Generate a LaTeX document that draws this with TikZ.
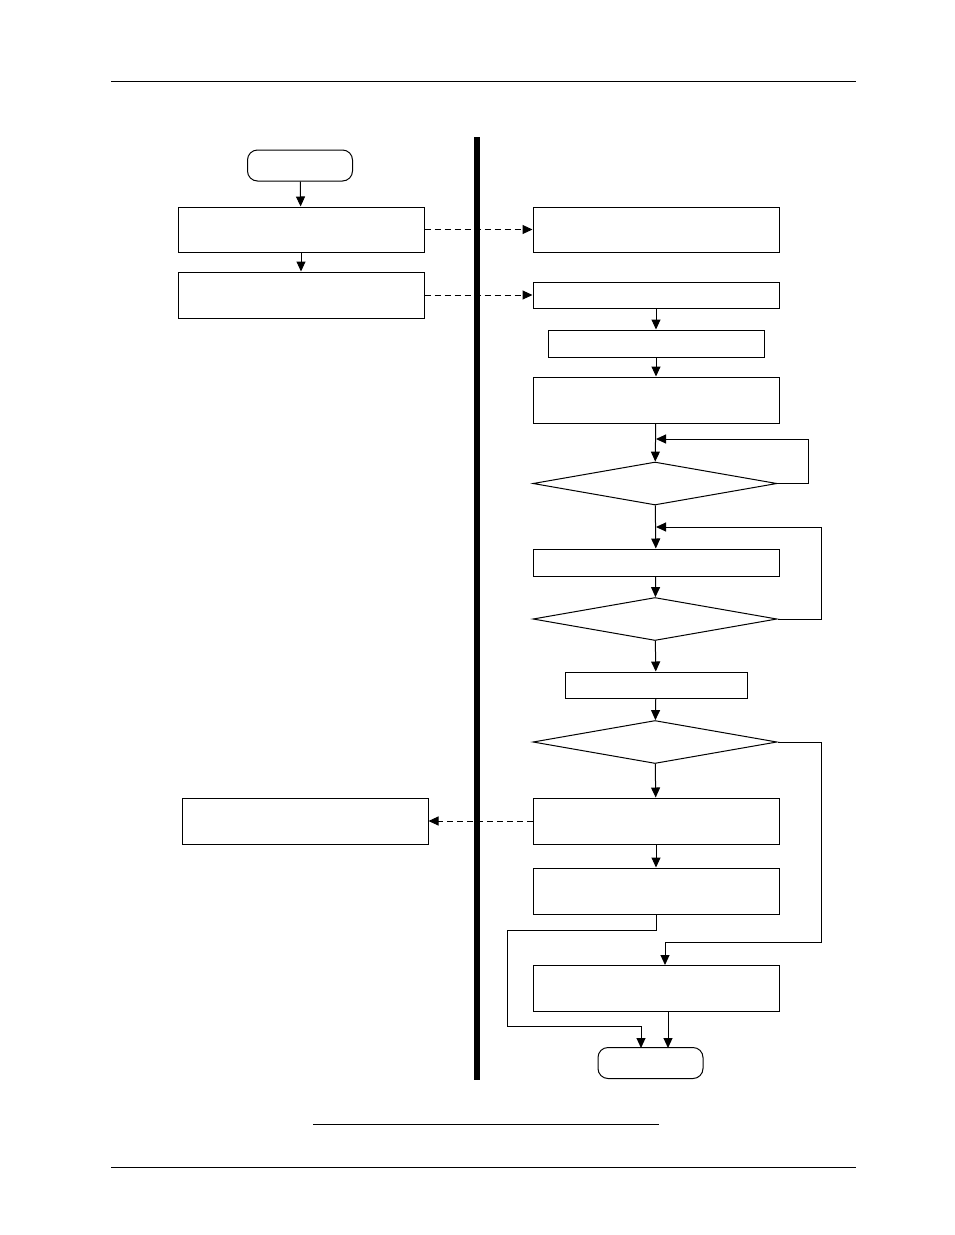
\documentclass[tikz,border=0pt]{standalone}
\usetikzlibrary{shapes.geometric,arrows.meta}
\begin{document}
\begin{tikzpicture}[x=1pt,y=-1pt,
  bx/.style={draw,line width=1pt,inner sep=0pt,rectangle},
  term/.style={draw,line width=1pt,inner sep=0pt,rounded corners=10pt,minimum width=105pt,minimum height=31pt},
  dia/.style={draw,line width=1pt,inner sep=0pt,diamond,minimum width=244pt,minimum height=43pt},
  arr/.style={line width=1pt,-{Triangle[length=10pt,width=9pt]}},
  dsh/.style={arr,dashed,dash pattern=on 6pt off 4pt}]
\useasboundingbox (0,0) rectangle (954,1235);
\draw[line width=0.8pt] (111,81) coordinate (h1) -- (856,81) coordinate (h2);
\draw[line width=0.8pt] (111,1167) coordinate (f1) -- (856,1167) coordinate (f2);
\draw[line width=0.8pt] (313,1124) coordinate (u1) -- (659,1124) coordinate (u2);
\draw[line width=6pt] (477,137) coordinate (v1) -- (477,1080) coordinate (v2);
\node[term] (st) at (300,165.5) {};
\node[bx,minimum width=246pt,minimum height=45pt] (l1) at (301,229.5) {};
\node[bx,minimum width=246pt,minimum height=46pt] (l2) at (301,295) {};
\node[bx,minimum width=246pt,minimum height=45pt] (r1) at (656,229.5) {};
\node[bx,minimum width=246pt,minimum height=26pt] (r2) at (656,295) {};
\node[bx,minimum width=216pt,minimum height=27pt] (r3) at (656,343.5) {};
\node[bx,minimum width=246pt,minimum height=46pt] (r4) at (656,400) {};
\node[dia] (d1) at (655,483.5) {};
\node[bx,minimum width=246pt,minimum height=27pt] (r5) at (656,562.5) {};
\node[dia] (d2) at (655,619) {};
\node[bx,minimum width=182pt,minimum height=26pt] (r6) at (656,685) {};
\node[dia] (d3) at (655,742) {};
\node[bx,minimum width=246pt,minimum height=46pt] (r7) at (656,821) {};
\node[bx,minimum width=246pt,minimum height=46pt] (l3) at (305,821) {};
\node[bx,minimum width=246pt,minimum height=46pt] (r8) at (656,891) {};
\node[bx,minimum width=246pt,minimum height=46pt] (r9) at (656,988) {};
\node[term] (en) at (650.5,1063) {};
\draw[arr] (st) -- (l1);
\draw[arr] (l1) -- (l2);
\draw[dsh] (l1) -- (r1);
\draw[dsh] (l2.east) -- (r2.west);
\draw[arr] (r2) -- (r3);
\draw[arr] (r3) -- (r4);
\draw[arr] (r4) -- (d1);
\draw[arr] (d1.east) -- (808,483.5) -- (808,439) -- (656,439);
\draw[arr] (d1) -- (r5);
\draw[arr] (r5) -- (d2);
\draw[arr] (d2.east) -- (821,619) -- (821,527) -- (656,527);
\draw[arr] (d2) -- (r6);
\draw[arr] (r6) -- (d3);
\draw[arr] (d3) -- (r7);
\draw[dsh] (r7) -- (l3);
\draw[arr] (r7) -- (r8);
\draw[arr] (d3.east) -- (821,742) -- (821,942) -- (665,942) -- (665,965);
\draw[arr] (r8.south) -- (656,930) -- (507,930) -- (507,1026) -- (641,1026) -- (641,1048);
\draw[arr] (668,1011) -- (668,1048);
\end{tikzpicture}
\end{document}
